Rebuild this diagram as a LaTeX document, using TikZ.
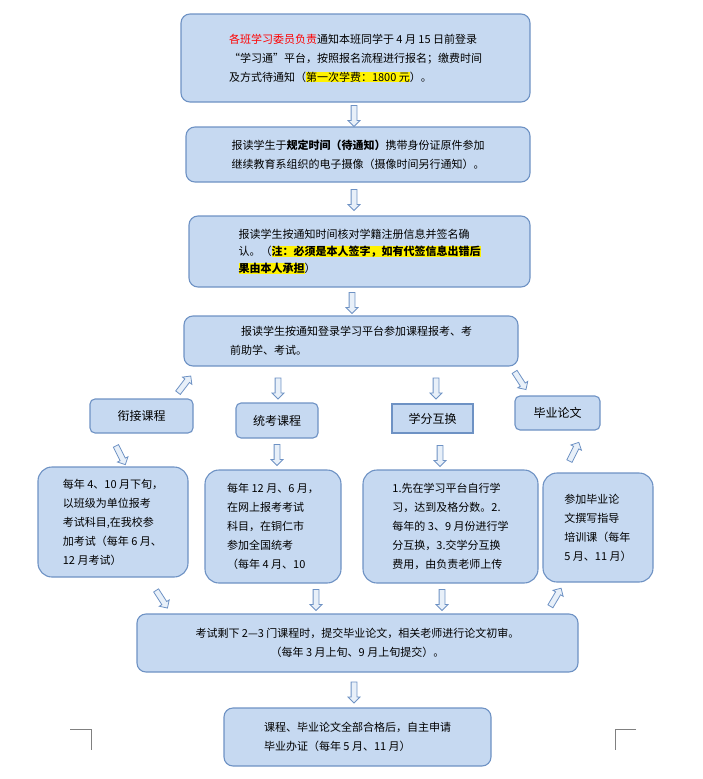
\documentclass[tikz,border=0pt]{standalone}
\usepackage{fontspec}
\setmainfont{Noto Sans CJK SC}
\usetikzlibrary{shapes.arrows}
\definecolor{bfill}{RGB}{198,217,241}
\definecolor{bdraw}{RGB}{110,146,196}
\setlength\fboxsep{0pt}
\newcommand\hl[1]{\colorbox{yellow}{#1}}
\begin{document}
\begin{tikzpicture}[x=1pt,y=-1pt,
  box/.style={draw=bdraw,fill=bfill,line width=1.1pt,rounded corners=9pt,align=left,font=\fontsize{11}{19}\selectfont,inner sep=4pt},
  lab/.style={box,rounded corners=5pt,align=center,font=\fontsize{12}{16}\selectfont},
  sarr/.style={single arrow,draw=bdraw,fill=bfill!40,line width=0.8pt,minimum height=21pt,inner xsep=0pt,inner ysep=2.5pt,single arrow head extend=3pt,sloped}]
\useasboundingbox (0,0) rectangle (702,779);
\node[box,minimum width=349pt,minimum height=88pt] (b1) at (355.5,58) {\textcolor{red}{各班学习委员负责}通知本班同学于 4 月 15 日前登录\\“学习通”平台，按照报名流程进行报名；缴费时间\\及方式待通知（\hl{第一次学费：1800 元}）。};
\node[box,minimum width=344pt,minimum height=55pt] (b2) at (358,154.5) {报读学生于\textbf{规定时间（待通知）}携带身份证原件参加\\继续教育系组织的电子摄像（摄像时间另行通知）。};
\node[box,minimum width=341pt,minimum height=71pt,font=\fontsize{11}{17}\selectfont] (b3) at (359.5,251.5) {报读学生按通知时间核对学籍注册信息并签名确\\认。（\hl{\textbf{注：必须是本人签字，如有代签信息出错后}}\\\hl{\textbf{果由本人承担}}）};
\node[box,minimum width=334pt,minimum height=50pt] (b4) at (351,341) {\quad 报读学生按通知登录学习平台参加课程报考、考\\前助学、考试。};
\node[lab,minimum width=103pt,minimum height=34pt] (l1) at (141.5,416) {衔接课程};
\node[lab,minimum width=82pt,minimum height=35pt] (l2) at (277,420.5) {统考课程};
\node[lab,rounded corners=0pt,minimum width=81pt,minimum height=29pt] (l3) at (432.5,418.5) {学分互换};
\node[lab,minimum width=85pt,minimum height=34pt] (l4) at (557.5,413) {毕业论文};
\node[box,rounded corners=14pt,minimum width=150pt,minimum height=110pt] (d1) at (113,522) {每年 4、10 月下旬，\\以班级为单位报考\\考试科目,在我校参\\加考试（每年 6 月、\\12 月考试）};
\node[box,rounded corners=14pt,minimum width=136pt,minimum height=113pt] (d2) at (273,526.5) {每年 12 月、6 月，\\在网上报考考试\\科目，在铜仁市\\参加全国统考\\（每年 4 月、10};
\node[box,rounded corners=14pt,minimum width=175pt,minimum height=113pt] (d3) at (450.5,526.5) {1.先在学习平台自行学\\习，达到及格分数。2.\\每年的 3、9 月份进行学\\分互换，3.交学分互换\\费用，由负责老师上传};
\node[box,rounded corners=14pt,minimum width=110pt,minimum height=109pt] (d4) at (598,527.5) {参加毕业论\\文撰写指导\\培训课（每年\\5 月、11 月）};
\node[box,align=center,minimum width=441pt,minimum height=58pt] (b5) at (357.5,643) {考试剩下 2—3 门课程时，提交毕业论文，相关老师进行论文初审。\\（每年 3 月上旬、9 月上旬提交）。};
\node[box,minimum width=267pt,minimum height=58pt] (b6) at (357.5,737) {课程、毕业论文全部合格后，自主申请\\毕业办证（每年 5 月、11 月）};
% arrow end points
\foreach \n/\x/\y in {a1/354/104,a2/354/125,c1/354/185,c2/354/212,e1/352/290,e2/352/313,
 f1/190/377,f2/177/394,g1/278/377,g2/278/397,h1/436/377,h2/436/397,i1/514/371,i2/525/388,
 j1/113/440,j2/127/468,k1/277/442,k2/277/465,m1/440/443,m2/440/466,n1/580/440,n2/567/466,
 o1/152/584,o2/170/612,p1/316/585,p2/316/612,q1/442/585,q2/442/612,r1/563/585,r2/547/612,
 s1/354/678,s2/354/704}
 \coordinate (\n) at (\x,\y);
\foreach \u/\v in {a1/a2,c1/c2,e1/e2,f1/f2,g1/g2,h1/h2,i1/i2,j1/j2,k1/k2,m1/m2,n1/n2,o1/o2,p1/p2,q1/q2,r1/r2,s1/s2}
 \path (\u) -- node[sarr]{} (\v);
% crop marks
\draw[gray,line width=0.5pt] (70,729) -- (91,729) -- (91,750);
\draw[gray,line width=0.5pt] (636,729) -- (615,729) -- (615,750);
\end{tikzpicture}
\end{document}
